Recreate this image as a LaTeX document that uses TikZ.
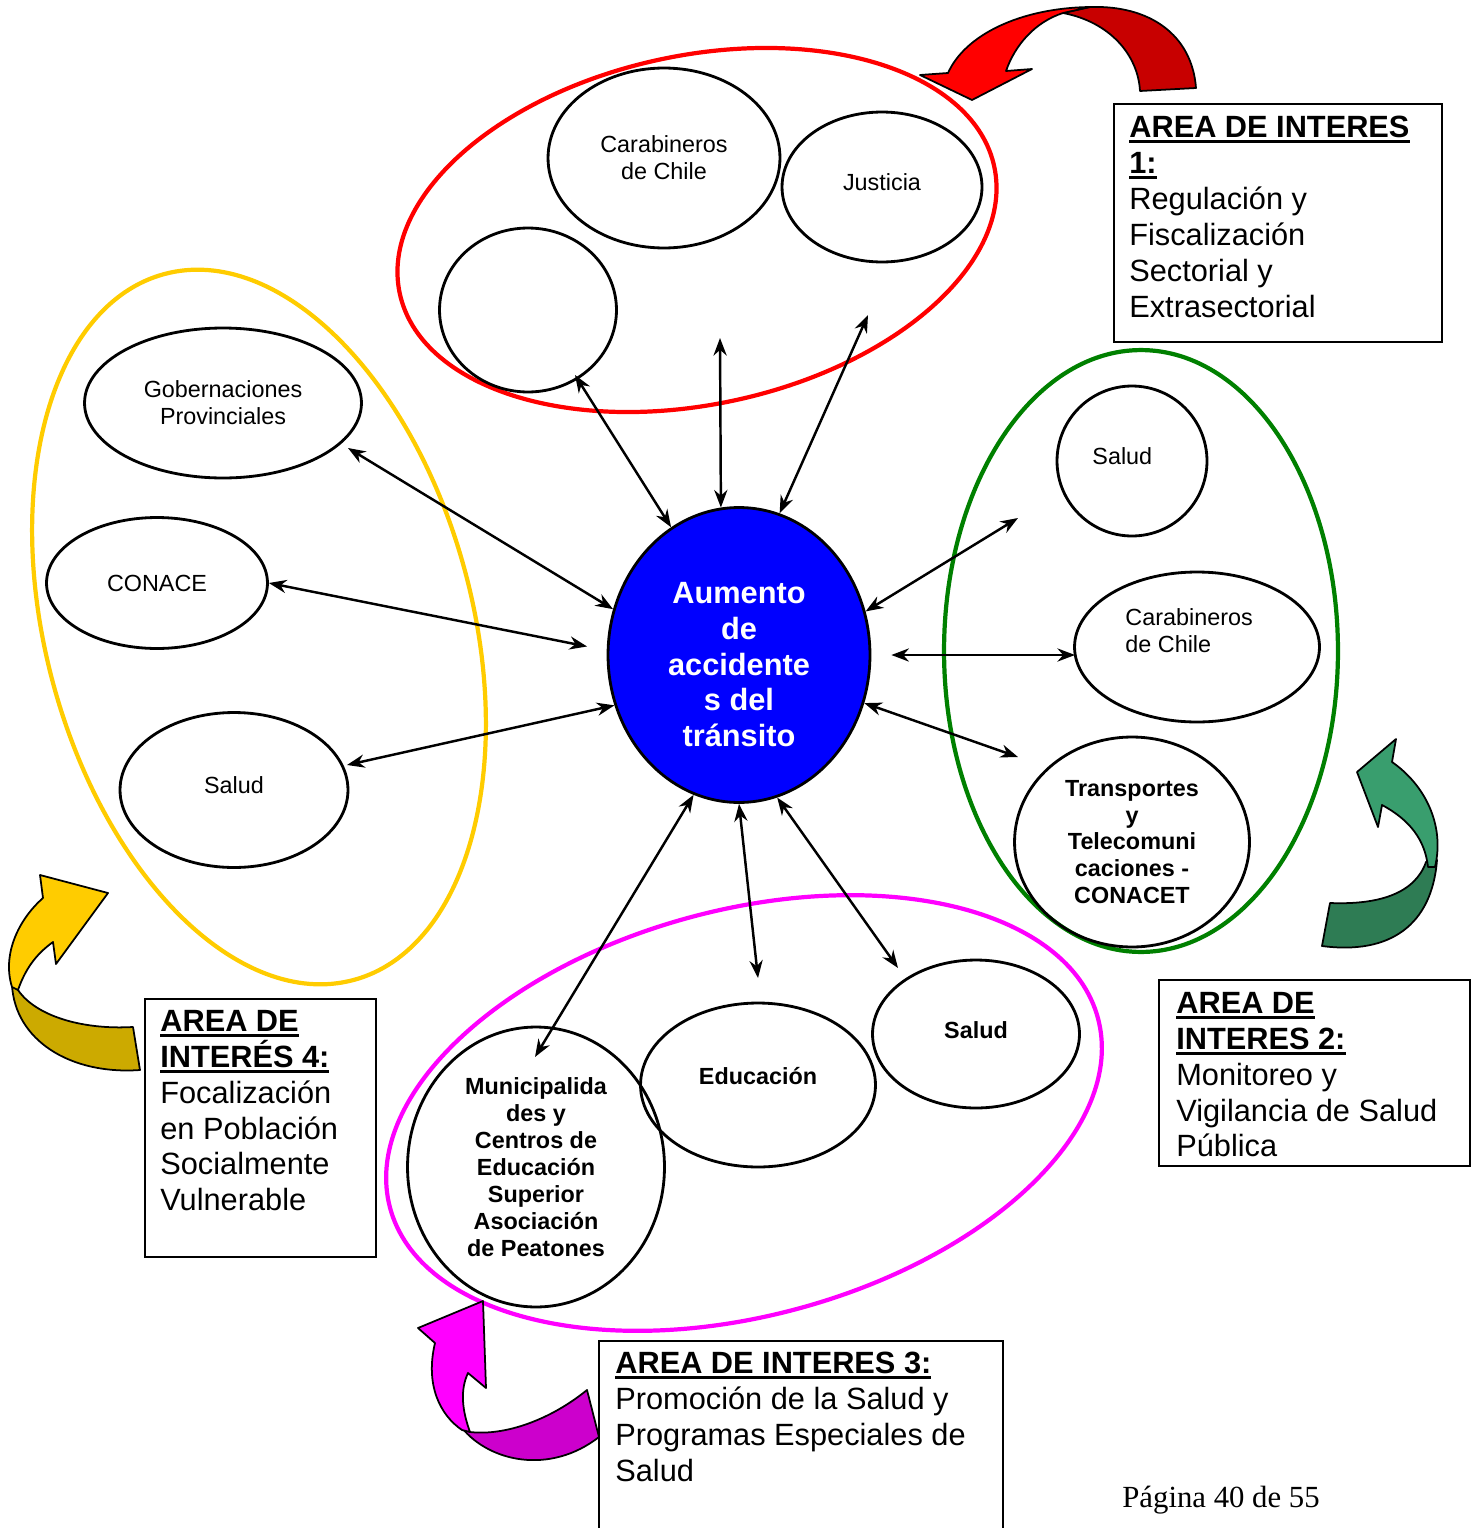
\documentclass[tikz,border=0pt]{standalone}
\usepackage{fontspec}
\setmainfont{Liberation Sans}
\newfontfamily\timesf{Liberation Serif}
\usetikzlibrary{arrows.meta,shapes.geometric}

\definecolor{redB}{RGB}{255,0,0}
\definecolor{redD}{RGB}{200,0,0}
\definecolor{greenB}{RGB}{57,158,110}
\definecolor{greenD}{RGB}{46,124,84}
\definecolor{yelB}{RGB}{255,204,0}
\definecolor{yelD}{RGB}{204,170,0}
\definecolor{magB}{RGB}{255,0,255}
\definecolor{magD}{RGB}{204,0,204}
\definecolor{areaG}{RGB}{0,128,0}

% bold heading with a thick underline
\newcommand{\ulhead}[1]{\setbox0\hbox{\bfseries #1}\rlap{\rule[-3.2pt]{\wd0}{1.7pt}}\box0}
% extra depth below a label, lifts it inside its node
\newcommand{\liftup}[1]{\rule[-#1]{0pt}{0pt}}

\begin{document}
\begin{tikzpicture}[x=0.02cm,y=-0.02cm,
  ent/.style={ellipse,draw,line width=1.6pt,inner sep=0pt,align=center,font=\fontsize{13.3}{15.3}\selectfont},
  entb/.style={ent,font=\fontsize{13.3}{15.3}\selectfont\bfseries},
  link/.style={{Stealth[length=10pt,width=7.5pt]}-{Stealth[length=10pt,width=7.5pt]},line width=1.4pt},
  area/.style={line width=2.4pt},
  areatext/.style={anchor=north west,inner sep=0pt,align=left,font=\fontsize{17.5}{20.4}\selectfont},
  boxline/.style={line width=1.3pt},
  ribbon/.style={draw=black,line width=1pt,line join=round}]
\useasboundingbox (0,0) rectangle (1478,1528);

% areas
\draw[area,redB,rotate around={12:(697,230)}] (697,230) ellipse [x radius=6.08cm,y radius=3.49cm];
\draw[area,yelB,rotate around={15:(259,627)}] (259,627) ellipse [x radius=4.27cm,y radius=7.31cm];
\draw[area,areaG] (1141,651) ellipse [x radius=3.94cm,y radius=6.02cm];
\draw[area,magB,rotate around={15:(744,1113)}] (744,1113) ellipse [x radius=7.33cm,y radius=4.06cm];

% centre
\node[ellipse,draw,line width=1.6pt,fill=blue,text=white,inner sep=0pt,align=center,
  minimum width=5.24cm,minimum height=5.9cm,font=\fontsize{17.5}{20.3}\selectfont\bfseries]
  (acc) at (739,655) {\rule{0pt}{23pt}Aumento\\de\\accidente\\s del\\tránsito};

% area 1
\node[ent,minimum width=4.64cm,minimum height=3.6cm] (carab1) at (664,158) {Carabineros\\de Chile};
\node[ent,minimum width=4.0cm,minimum height=3.0cm] (just) at (882,187) {Justicia\liftup{5.6pt}};
\node[ent,minimum width=3.54cm,minimum height=3.28cm] (vacio) at (528,310) {};

% area 4
\node[ent,minimum width=5.54cm,minimum height=3.0cm] (gob) at (223,403) {Gobernaciones\\Provinciales};
\node[ent,minimum width=4.42cm,minimum height=2.62cm] (conace) at (157,583) {CONACE};
\node[ent,minimum width=4.56cm,minimum height=3.1cm] (saludA) at (234,790) {Salud\liftup{5.6pt}};

% area 2
\node[ent,minimum width=3.0cm,minimum height=3.0cm] (saludB) at (1132,461) {Salud\hspace*{11pt}\liftup{5.6pt}};
\node[ent,align=left,minimum width=4.9cm,minimum height=3.0cm] (carab2) at (1197,647) {Carabineros\hspace*{9pt}\\de Chile\liftup{19pt}};
\node[entb,minimum width=4.7cm,minimum height=4.2cm] (transp) at (1132,842) {Transportes\\y\\Telecomuni\\caciones -\\CONACET};

% area 3
\node[entb,minimum width=5.14cm,minimum height=5.6cm] (muni) at (536,1167) {Municipalida\\des y\\Centros de\\Educación\\Superior\\Asociación\\de Peatones};
\node[entb,minimum width=4.7cm,minimum height=3.28cm] (educ) at (758,1085) {Educación\liftup{10pt}};
\node[entb,minimum width=4.14cm,minimum height=2.96cm] (saludC) at (976,1034) {Salud\liftup{4.5pt}};

% free ends
\coordinate (t1) at (575,375);
\coordinate (t2) at (720,338);
\coordinate (t3) at (868,315);
\coordinate (t4) at (348,448);
\coordinate (t6) at (347,765);
\coordinate (t7) at (1018,518);
\coordinate (t8) at (1075,655);
\coordinate (t9) at (1018,757);
\coordinate (t10) at (535,1057);
\coordinate (t11) at (758,978);
\coordinate (t12) at (898,968);

\draw[link] (t1) -- (acc.118.8);
\draw[link] (t2) -- (acc.97.7);
\draw[link] (t3) -- (acc.74.4);
\draw[link] (t4) -- (acc.160.4);
\draw[link,shorten >=0.4cm] (conace.east) -- (acc.178.5);
\draw[link] (t6) -- (acc.202.6);
\draw[link] (acc.19.5) -- (t7);
\draw[link,shorten <=0.4cm] (acc.0) -- (t8);
\draw[link] (acc.339.4) -- (t9);
\draw[link] (acc.252.7) -- (t10);
\draw[link] (acc.270.4) -- (t11);
\draw[link] (acc.285.9) -- (t12);

% curved arrows
\filldraw[ribbon,fill=redD] (1063,13) .. controls (1110,22) and (1138,55) .. (1140,91) -- (1196,88) .. controls (1192,35) and (1150,5) .. (1090,7) -- cycle;
\filldraw[ribbon,fill=redB] (972,100) -- (1032,69) -- (1006,71) .. controls (1015,45) and (1035,22) .. (1063,13) -- (1090,7) .. controls (1020,8) and (965,35) .. (948,73) -- (920,75) -- cycle;

\filldraw[ribbon,fill=greenD] (1437,860) .. controls (1432,925) and (1390,955) .. (1322,946) -- (1330,903) .. controls (1380,905) and (1415,893) .. (1426,862) -- cycle;
\filldraw[ribbon,fill=greenB] (1396,739) -- (1392,762) .. controls (1425,785) and (1445,825) .. (1435,867) -- (1428,867) .. controls (1425,840) and (1410,820) .. (1382,805) -- (1378,827) -- (1357,772) -- cycle;

\filldraw[ribbon,fill=yelD] (12,985) .. controls (15,1040) and (70,1075) .. (140,1070) -- (133,1027) .. controls (80,1030) and (35,1015) .. (18,990) -- cycle;
\filldraw[ribbon,fill=yelB] (108,893) -- (40,875) -- (43,898) .. controls (18,920) and (2,955) .. (12,987) -- (18,990) .. controls (25,970) and (35,955) .. (53,942) -- (56,964) -- cycle;

\filldraw[ribbon,fill=magD] (462,1428) .. controls (490,1462) and (550,1475) .. (599,1437) -- (587,1390) .. controls (550,1420) and (505,1436) .. (470,1432) -- cycle;
\filldraw[ribbon,fill=magB] (483,1301) -- (418,1328) -- (435,1343) .. controls (425,1385) and (440,1415) .. (462,1430) -- (470,1432) .. controls (462,1410) and (460,1390) .. (468,1373) -- (486,1388) -- cycle;

% area boxes
\draw[boxline] (1114,104) rectangle (1442,342);
\node[areatext] (txt1) at (1129,116) {\ulhead{AREA DE INTERES}\\\ulhead{1:}\\Regulación y\\Fiscalización\\Sectorial y\\Extrasectorial};
\draw[boxline] (1159,980) rectangle (1470,1166);
\node[areatext] (txt2) at (1176,992) {\ulhead{AREA DE}\\\ulhead{INTERES 2:}\\Monitoreo y\\Vigilancia de Salud\\Pública};
\draw[boxline,fill=white] (599,1530) -- (599,1341) -- (1003,1341) -- (1003,1530);
\node[areatext] (txt3) at (615,1352) {\ulhead{AREA DE INTERES 3:}\\Promoción de la Salud y\\Programas Especiales de\\Salud};
\draw[boxline] (145,999) rectangle (376,1257);
\node[areatext] (txt4) at (160,1010) {\ulhead{AREA DE}\\\ulhead{INTERÉS 4:}\\Focalización\\en Población\\Socialmente\\Vulnerable};

\node[font=\timesf\fontsize{17.5}{21}\selectfont] (pag) at (1221,1500) {Página 40 de 55};
\end{tikzpicture}
\end{document}
